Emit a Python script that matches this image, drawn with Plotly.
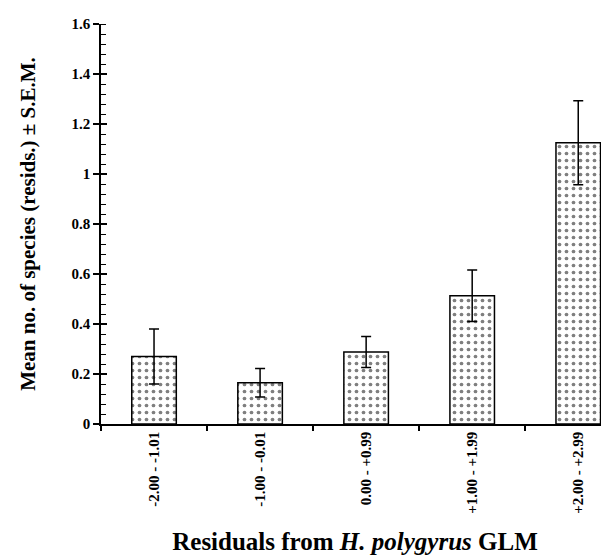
import plotly.graph_objects as go

categories = ["-2.00 - -1.01", "-1.00 - -0.01", "0.00 - +0.99", "+1.00 - +1.99", "+2.00 - +2.99"]
means = [0.27, 0.165, 0.288, 0.513, 1.125]
sem = [0.11, 0.057, 0.062, 0.103, 0.168]
ytick_vals = [0, 0.2, 0.4, 0.6, 0.8, 1.0, 1.2, 1.4, 1.6]
ytick_text = ["0", "0.2", "0.4", "0.6", "0.8", "1", "1.2", "1.4", "1.6"]

FONT = "Liberation Serif"

fig = go.Figure()
fig.add_trace(go.Bar(
    x=categories, y=means,
    width=0.42,
    marker=dict(
        color="white",
        line=dict(color="black", width=1.5),
        pattern=dict(shape=".", fgcolor="black", bgcolor="white", size=7, solidity=0.22),
    ),
    error_y=dict(type="data", array=sem, visible=True, color="black", thickness=1.5, width=5),
    showlegend=False,
))
# invisible helper trace so the overlaid axis (inside half of the major ticks) is drawn
fig.add_trace(go.Scatter(
    x=categories[:1], y=[0], yaxis="y2", mode="markers",
    marker=dict(opacity=0), showlegend=False, hoverinfo="skip",
))

fig.update_layout(
    width=609, height=559,
    margin=dict(l=93, r=8, t=11, b=143),
    plot_bgcolor="white", paper_bgcolor="white",
    font=dict(family=FONT, color="black"),
    xaxis=dict(
        type="category",
        range=[-0.5, 4.29],
        tickson="boundaries",
        ticks="outside", ticklen=5, tickwidth=1.5, tickcolor="black",
        showline=True, linecolor="black", linewidth=1.5,
        tickangle=-90,
        tickfont=dict(family=FONT, size=15, color="black", weight="bold"),
        showgrid=False, zeroline=False,
        title=dict(text="<b>Residuals from <i>H. polygyrus</i> GLM</b>",
                   font=dict(family=FONT, size=25, color="black"), standoff=20),
    ),
    yaxis=dict(
        range=[0, 1.6],
        tickmode="array", tickvals=ytick_vals, ticktext=ytick_text,
        ticks="outside", ticklen=6, tickwidth=1.5, tickcolor="black",
        minor=dict(dtick=0.04, ticks="inside", ticklen=5, tickwidth=1.2, tickcolor="black", showgrid=False),
        showline=True, linecolor="black", linewidth=1.5,
        tickfont=dict(family=FONT, size=15, color="black", weight="bold"),
        showgrid=False, zeroline=False,
        title=dict(text="<b>Mean no. of species (resids.) ± S.E.M.</b>",
                   font=dict(family=FONT, size=21, color="black"), standoff=30),
    ),
    yaxis2=dict(
        overlaying="y", side="left", range=[0, 1.6],
        tickmode="array", tickvals=ytick_vals, showticklabels=False,
        ticks="inside", ticklen=6, tickwidth=1.5, tickcolor="black",
        showline=False, showgrid=False, zeroline=False,
    ),
)

fig.write_html("out.html")
